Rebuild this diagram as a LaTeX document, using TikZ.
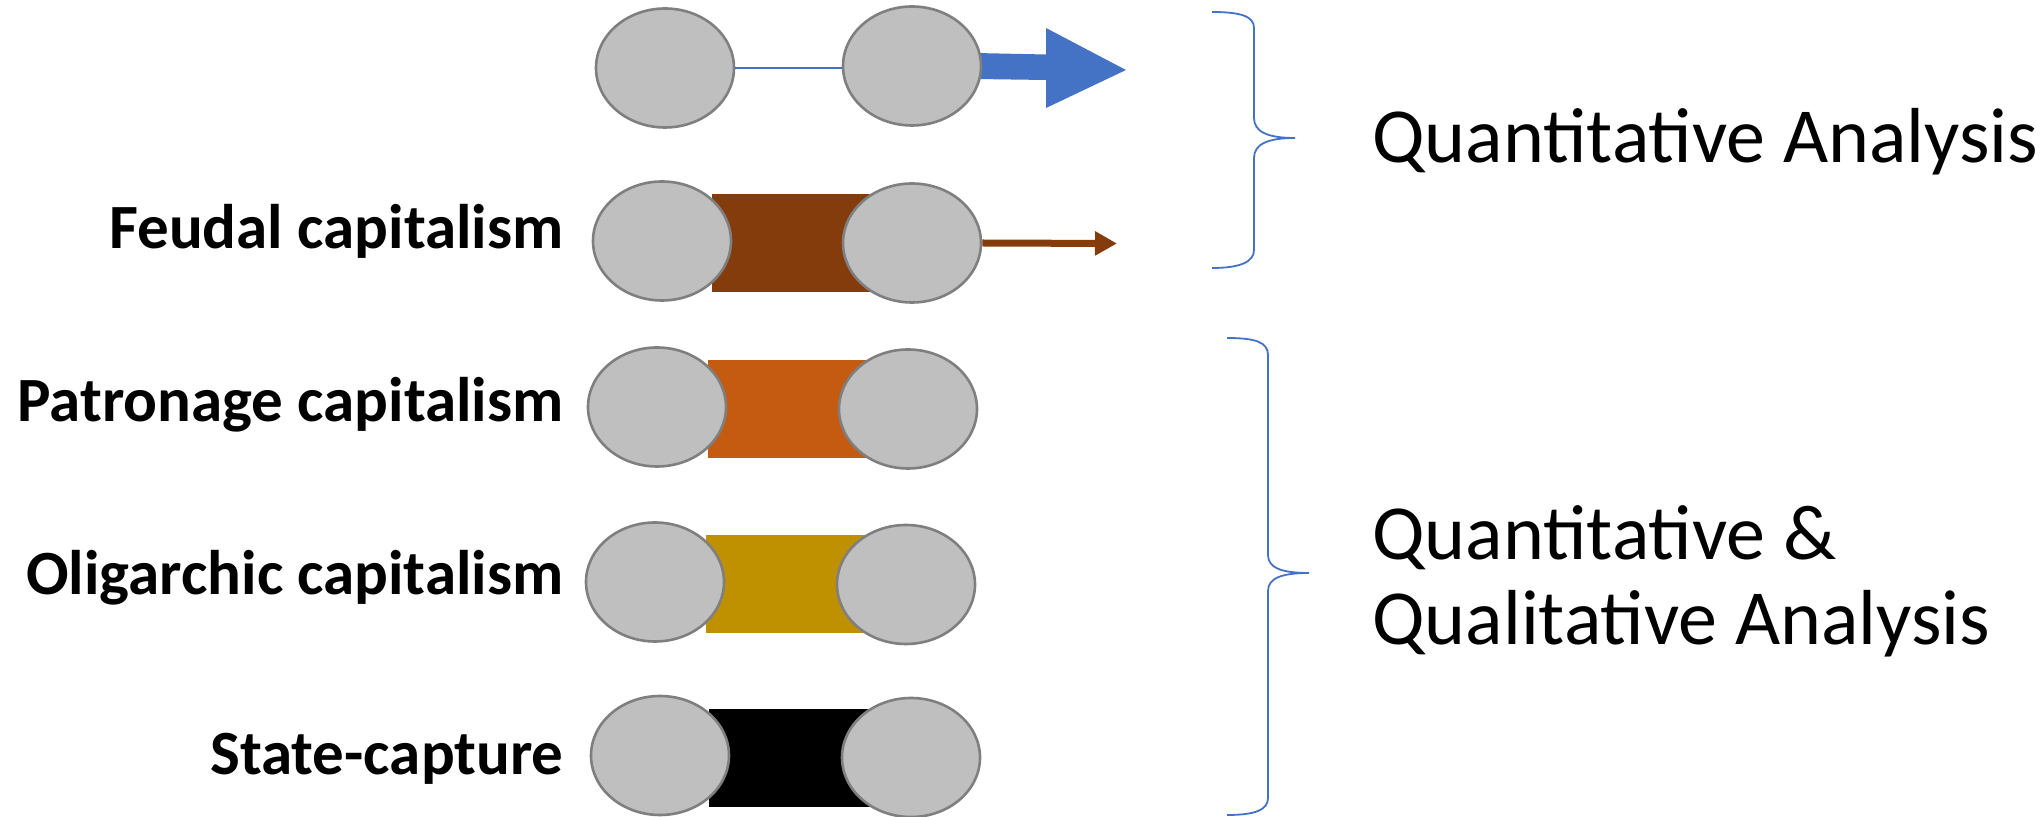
\documentclass[tikz,border=0pt]{standalone}
\usepackage{fontspec}
\setmainfont{Carlito}
\usetikzlibrary{shapes.geometric,arrows.meta}
\definecolor{ellfill}{HTML}{BFBFBF}
\definecolor{elldraw}{HTML}{7F7F7F}
\definecolor{qblue}{HTML}{4472C4}
\definecolor{feudal}{HTML}{843C0C}
\definecolor{patron}{HTML}{C55A11}
\definecolor{oligar}{HTML}{BF9000}
\begin{document}
\begin{tikzpicture}[x=0.5pt,y=-0.5pt,
  disc/.style={ellipse, draw=elldraw, fill=ellfill, line width=1.3pt, minimum width=69pt, minimum height=59.5pt, inner sep=0pt},
  bar/.style={rectangle, minimum width=81pt, minimum height=49pt, inner sep=0pt},
  lbl/.style={anchor=base east, font=\fontsize{31.5pt}{36pt}\selectfont\bfseries, inner sep=0pt},
  big/.style={anchor=base west, font=\fontsize{39pt}{42.5pt}\selectfont, inner sep=0pt, align=left},
  brace/.style={draw=qblue, line width=0.9pt}]
\useasboundingbox[fill=white] (0,0) rectangle (2042,817);

% braces
\draw[brace] (1212,12) .. controls (1240,12) and (1254,16) .. (1254,28) -- (1254,118)
  .. controls (1254,132) and (1268,138) .. (1295,138)
  .. controls (1268,138) and (1254,144) .. (1254,158) -- (1254,250)
  .. controls (1254,262) and (1240,268) .. (1212,268);
\draw[brace] (1227,338) .. controls (1255,338) and (1268,342) .. (1268,355) -- (1268,555)
  .. controls (1268,568) and (1282,573) .. (1309,573)
  .. controls (1282,573) and (1268,578) .. (1268,591) -- (1268,798)
  .. controls (1268,810) and (1255,815) .. (1227,815);

% bars
\node[bar, fill=feudal] (FB) at (792.5,243.5) {};
\node[bar, fill=patron] (PB) at (789,409) {};
\node[bar, fill=oligar] (OB) at (786.5,584.5) {};
\node[bar, fill=black]  (SB) at (790,758) {};

% blue block arrow
\coordinate (BT) at (1126,70);
\fill[qblue] (975,53) -- (1046,54.5) -- (1046,28) -- (BT) -- (1046,108) -- (1046,80) -- (975,79) -- cycle;

% discs
\node[disc] (A1) at (665,68) {};
\node[disc] (A2) at (912,66) {};
\node[disc] (F1) at (662,241) {};
\node[disc] (F2) at (912,243) {};
\node[disc] (P1) at (657,407) {};
\node[disc] (P2) at (908,409) {};
\node[disc] (O1) at (655,582) {};
\node[disc] (O2) at (906,584.5) {};
\node[disc] (S1) at (660,755.5) {};
\node[disc] (S2) at (911,757.5) {};

% connectors
\draw[qblue, line width=0.8pt] (A1.east) -- (A1.east -| A2.west);
\coordinate (FT) at (1117,243.5);
\draw[feudal, line width=3.5pt, -{Triangle[length=11pt,width=11.5pt]}] (F2.east) -- (FT);

% labels
\node[lbl] (LF) at (564,249) {Feudal capitalism};
\node[lbl] (LP) at (564,422) {Patronage capitalism};
\node[lbl] (LO) at (564,595) {Oligarchic capitalism};
\node[lbl] (LS) at (564,775) {State-capture};

\node[big] (Q1) at (1372,163) {Quantitative Analysis};
\node[big] (Q2) at (1372,645) {Quantitative \&\\Qualitative Analysis};
\end{tikzpicture}
\end{document}
